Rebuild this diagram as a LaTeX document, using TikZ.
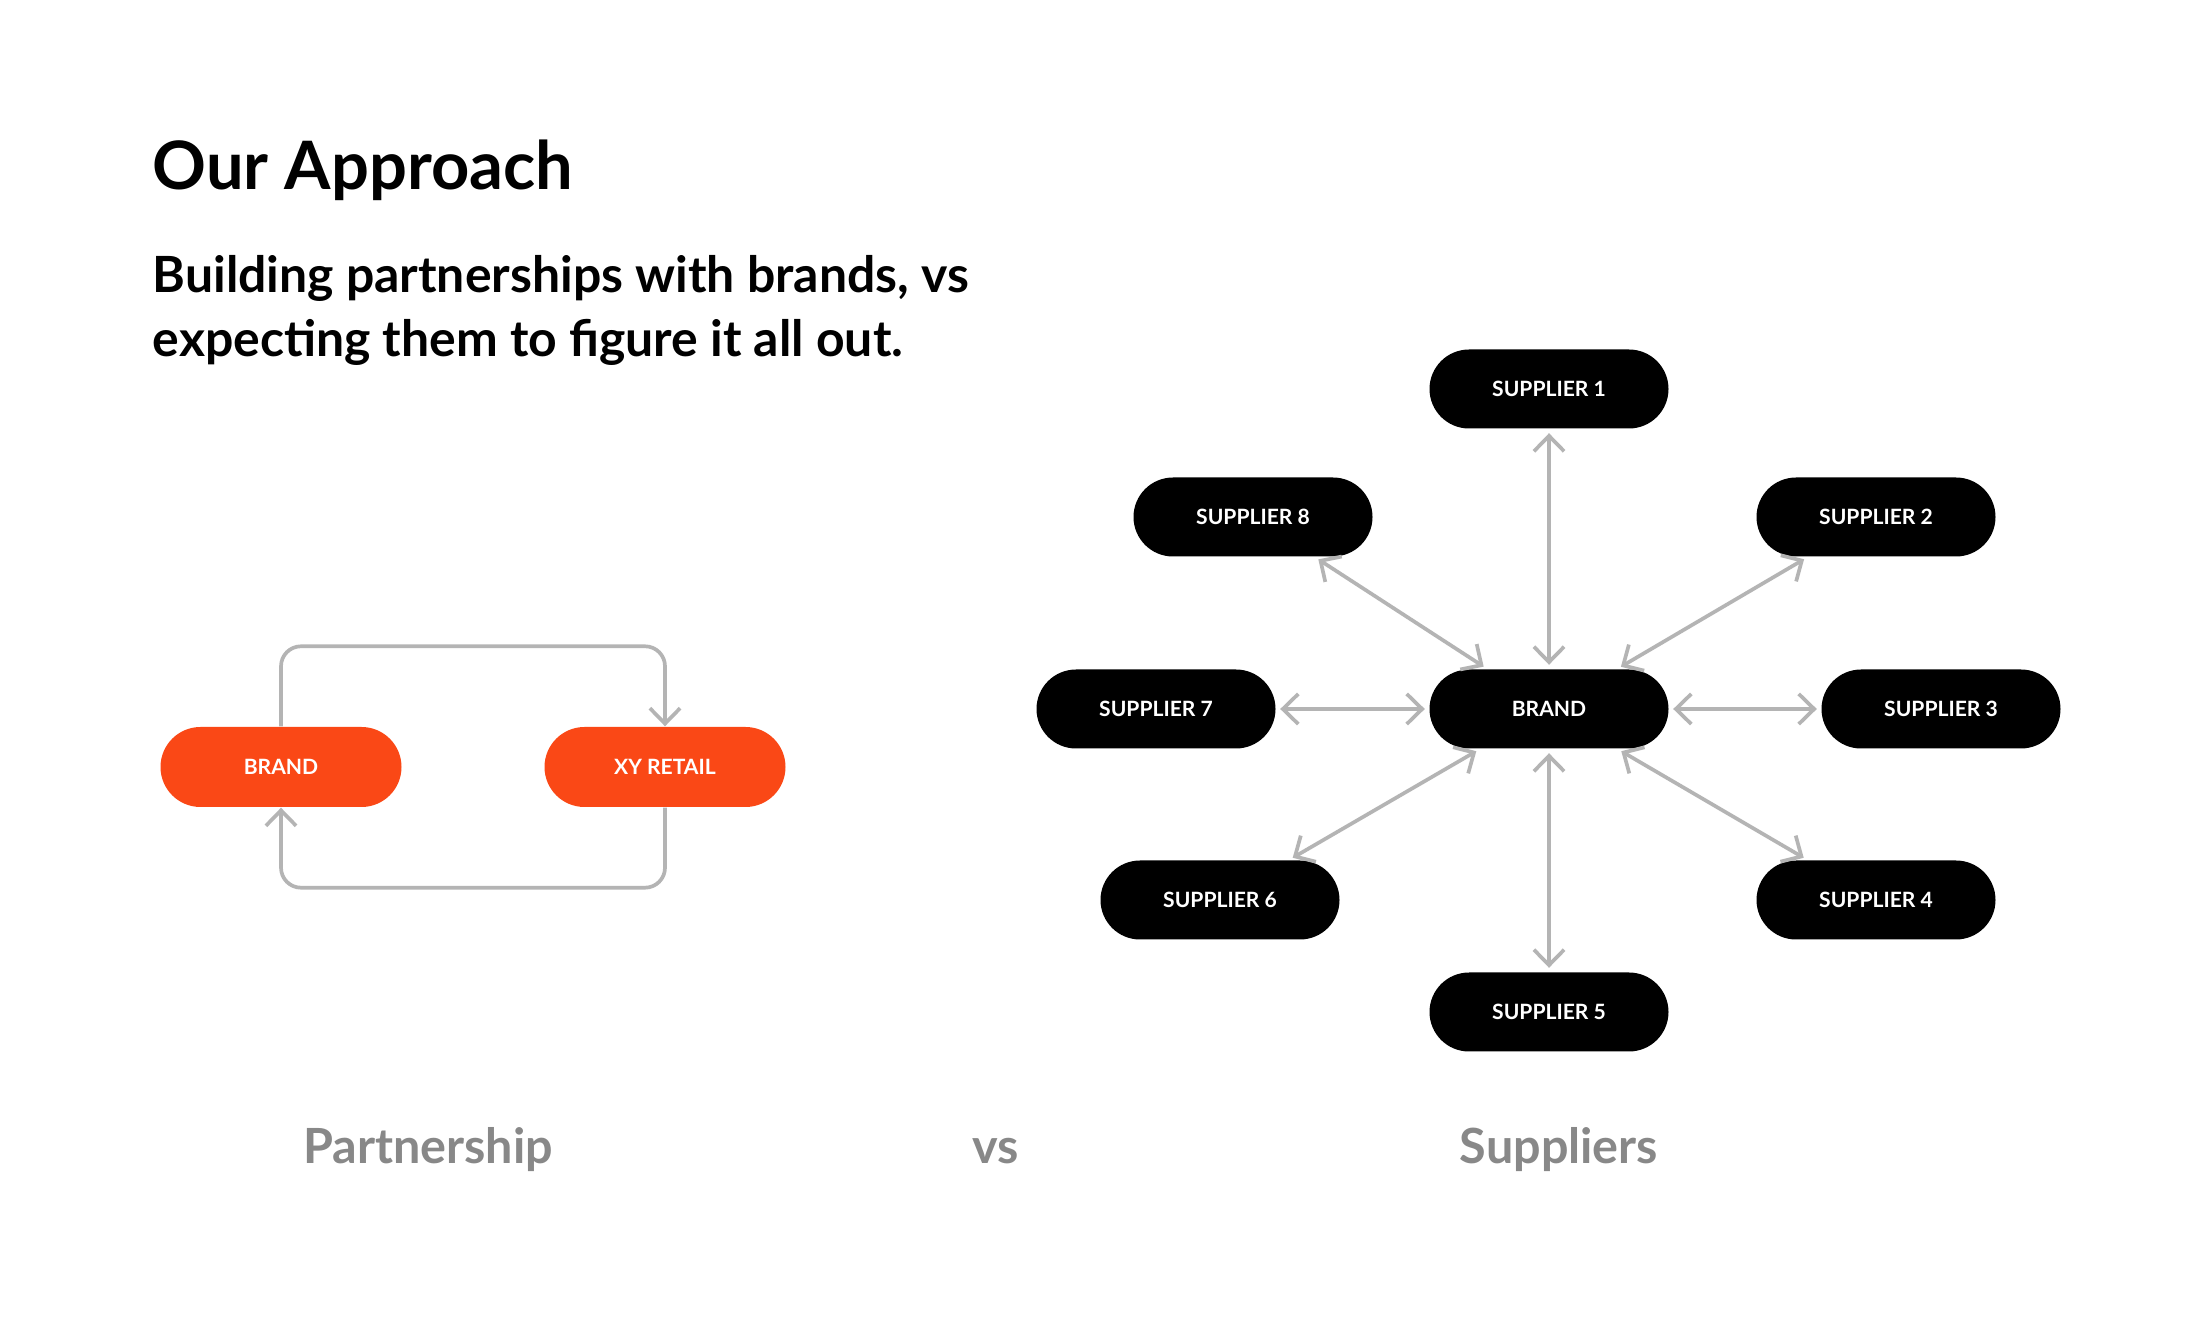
\documentclass[tikz,border=0pt]{standalone}
\usepackage{fontspec}
\setmainfont{Lato}
\usepackage{xcolor}
\usetikzlibrary{shapes.misc,arrows.meta,positioning,calc}

\definecolor{brandorange}{RGB}{250,72,22}
\definecolor{linkgray}{RGB}{180,180,180}
\definecolor{labelgray}{RGB}{136,136,136}

\begin{document}
\begin{tikzpicture}[
            every node/.style={font=\fontsize{6}{7}\selectfont\bfseries, inner sep=0pt},
            pill/.style={rounded rectangle, minimum width=2.39cm, minimum height=0.79cm, text=white},
            supplier/.style={pill, fill=black},
            partner/.style={pill, fill=brandorange, minimum width=2.41cm, minimum height=0.80cm},
            link/.style={draw=linkgray, line width=1.05pt},
            barb/.tip={Straight Barb[length=4.4pt, width=8.6pt, line width=1.05pt]},
            caption/.style={font=\fontsize{13.8}{16}\selectfont\bfseries, text=labelgray, anchor=base},
        ]
            \useasboundingbox[fill=white] (0,0) rectangle (22.02,-13.23);

            % heading
            \node[anchor=base west, font=\fontsize{19}{23}\selectfont\bfseries] (title) at (1.52,-1.90) {Our Approach};
            \node[anchor=base west, font=\fontsize{14.2}{17}\selectfont\bfseries] (sub1) at (1.52,-2.93) {Building partnerships with brands, vs};
            \node[anchor=base west, font=\fontsize{14.2}{17}\selectfont\bfseries] (sub2) at (1.52,-3.57) {expecting them to figure it all out.};

            % partnership
            \node[partner] (lbrand) at (2.81,-7.67) {BRAND};
            \node[partner] (retail) at (6.65,-7.67) {XY RETAIL};
            \draw[link, rounded corners=0.2cm, -barb] (lbrand.north) -- ++(0,0.80) -| (retail.north);
            \draw[link, rounded corners=0.2cm, -barb] (retail.south) -- ++(0,-0.80) -| (lbrand.south);

            % suppliers
            \node[supplier] (brand) at (15.49,-7.09) {BRAND};
            \node[supplier] (s1) at (15.49,-3.89) {SUPPLIER 1};
            \node[supplier] (s2) at (18.76,-5.17) {SUPPLIER 2};
            \node[supplier] (s3) at (19.41,-7.09) {SUPPLIER 3};
            \node[supplier] (s4) at (18.76,-9.00) {SUPPLIER 4};
            \node[supplier] (s5) at (15.49,-10.12) {SUPPLIER 5};
            \node[supplier] (s6) at (12.20,-9.00) {SUPPLIER 6};
            \node[supplier] (s7) at (11.56,-7.09) {SUPPLIER 7};
            \node[supplier] (s8) at (12.53,-5.17) {SUPPLIER 8};
            \foreach \s in {s1,s2,s3,s4,s5,s6,s7,s8}
                \draw[link, barb-barb, shorten <=0.04cm, shorten >=0.04cm] (brand) -- (\s);

            % captions
            \node[caption] (lpart) at (4.28,-11.63) {Partnership};
            \node[caption] (versus) at (9.96,-11.63) {vs};
            \node[caption] (lsupp) at (15.59,-11.63) {Suppliers};
        \end{tikzpicture}
\end{document}
